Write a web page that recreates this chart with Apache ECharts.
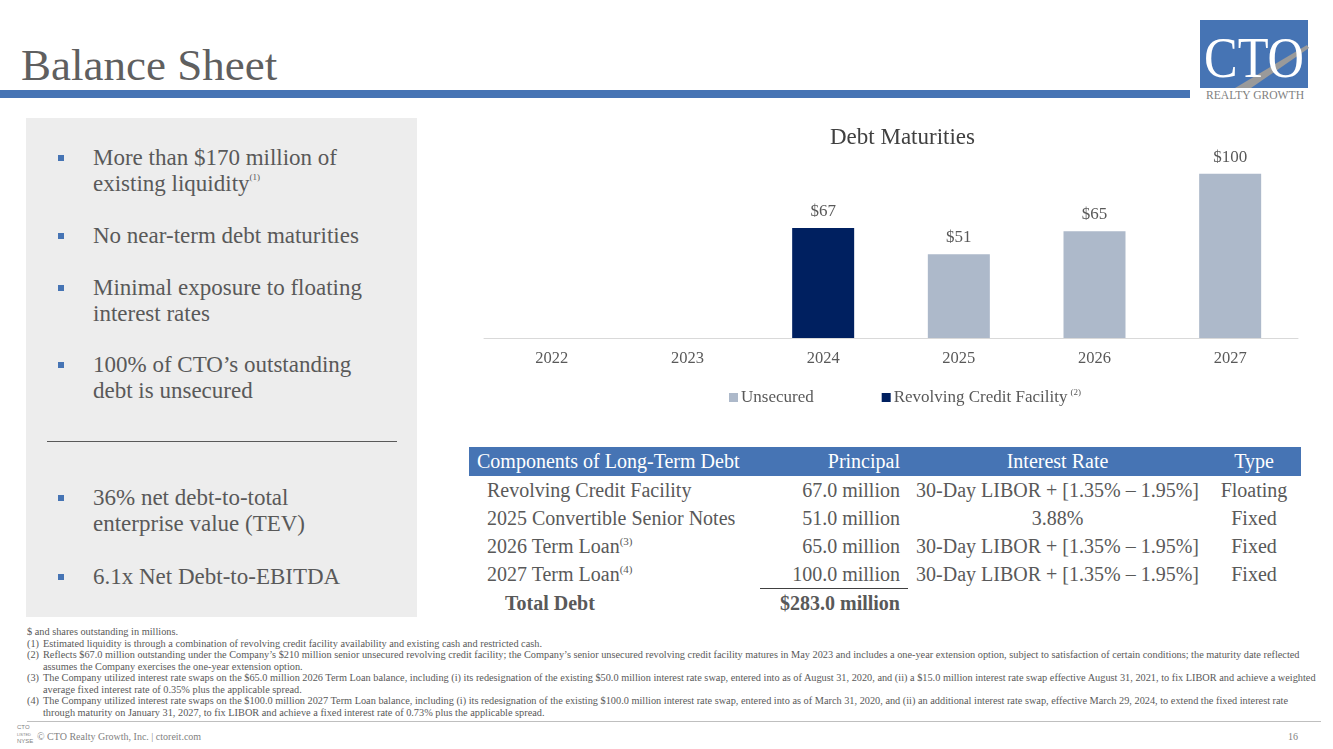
<!DOCTYPE html>
<html>
<head>
<meta charset="utf-8">
<script src="https://cdn.jsdelivr.net/npm/echarts@6/dist/echarts.min.js"></script>
<style>
  html,body{margin:0;padding:0;background:#fff;}
  body{width:1333px;height:749px;position:relative;overflow:hidden;font-family:"Liberation Serif",serif;color:#595959;}
  .abs{position:absolute;white-space:nowrap;}
  #title{left:21px;top:40px;font-size:45px;line-height:50px;color:#5F5F5F;}
  #rule{left:0;top:90px;width:1190px;height:8px;background:#4674B4;}
  #panel{left:26px;top:118px;width:391px;height:499px;background:#EDEDED;}
  .bul{position:absolute;left:58px;width:6px;height:6px;background:#4674B4;}
  .bt{position:absolute;left:93px;font-size:23px;line-height:26px;color:#595959;white-space:nowrap;}
  .bt sup{font-size:9px;line-height:0;vertical-align:baseline;position:relative;top:-11px;}
  #sep{left:47px;top:441px;width:350px;height:1px;background:#595959;}
  #chart{left:460px;top:110px;width:860px;height:305px;}
  table{position:absolute;left:469px;top:447px;border-collapse:collapse;table-layout:fixed;width:832px;font-size:20px;color:#595959;}
  th{background:#4674B4;color:#fff;font-weight:normal;height:29px;padding:0 8px;line-height:29px;white-space:nowrap;overflow:visible;}
  td{height:28px;line-height:28px;padding:0 8px;white-space:nowrap;overflow:visible;}
  td sup{font-size:11px;line-height:0;vertical-align:baseline;position:relative;top:-8px;}
  .r{text-align:right;} .c{text-align:center;} .l{text-align:left;}
  #notes{left:27px;top:626px;font-size:10.3px;line-height:11.5px;color:#595959;}
  #notes div{white-space:nowrap;}
  .n{display:inline-block;width:16px;}
  #foot{left:27px;top:721px;width:1294px;height:1px;background:#BFBFBF;}
  #copy{left:37px;top:731px;font-size:10px;color:#7F7F7F;}
  #pg{left:1288px;top:731px;font-size:10px;color:#7F7F7F;}
  #mini{left:17px;top:724px;font-family:"Liberation Sans",sans-serif;color:#7F7F7F;line-height:7px;font-size:6px;}
</style>
</head>
<body>
<div class="abs" id="title">Balance Sheet</div>
<div class="abs" id="rule"></div>
<svg class="abs" style="left:1195px;top:15px" width="120" height="90" viewBox="0 0 120 90">
  <rect x="5" y="5" width="108" height="68" fill="#4674B4"/>
  <polygon points="40,73 112,30 114,33 56,73" fill="#9A9A9A"/>
  <text x="59" y="62" text-anchor="middle" font-family="Liberation Serif" font-size="56" fill="#fff" textLength="100" lengthAdjust="spacingAndGlyphs">CTO</text>
  <text x="60" y="84" text-anchor="middle" font-family="Liberation Serif" font-size="12" fill="#7F7F7F" textLength="98" lengthAdjust="spacingAndGlyphs">REALTY GROWTH</text>
</svg>

<div class="abs" id="panel"></div>
<div class="bul" style="top:155px"></div>
<div class="bt" style="top:145px">More than $170 million of<br>existing liquidity<sup>(1)</sup></div>
<div class="bul" style="top:233px"></div>
<div class="bt" style="top:223px">No near-term debt maturities</div>
<div class="bul" style="top:285px"></div>
<div class="bt" style="top:275px">Minimal exposure to floating<br>interest rates</div>
<div class="bul" style="top:362px"></div>
<div class="bt" style="top:352px">100% of CTO’s outstanding<br>debt is unsecured</div>
<div class="abs" id="sep"></div>
<div class="bul" style="top:495px"></div>
<div class="bt" style="top:485px">36% net debt-to-total<br>enterprise value (TEV)</div>
<div class="bul" style="top:574px"></div>
<div class="bt" style="top:564px">6.1x Net Debt-to-EBITDA</div>

<div class="abs" id="chart"></div>

<table id="tbl">
  <colgroup><col style="width:291px"><col style="width:148px"><col style="width:299px"><col style="width:94px"></colgroup>
  <tr><th class="l">Components of Long-Term Debt</th><th class="r">Principal</th><th class="c">Interest Rate</th><th class="c">Type</th></tr>
</table>

<div class="abs" id="notes"></div>

<div class="abs" id="foot"></div>
<div class="abs" id="mini">CTO<br><span style="font-size:4px">LISTED</span><br>NYSE</div>
<div class="abs" id="copy">© CTO Realty Growth, Inc. | ctoreit.com</div>
<div class="abs" id="pg">16</div>

<script>
// ---- chart data ----
const categories = ['2022', '2023', '2024', '2025', '2026', '2027'];
const unsecured = [null, null, null, 51, 65, 100];
const revolving = [null, null, 67, null, null, null];
const seriesNames = ['Unsecured', 'Revolving Credit Facility'];

// ---- table data ----
const debtNames = ['Revolving Credit Facility', '2025 Convertible Senior Notes', '2026 Term Loan', '2027 Term Loan'];
const debtNotes = ['', '', '(3)', '(4)'];
const debtPrincipal = ['67.0 million', '51.0 million', '65.0 million', '100.0 million'];
const debtRate = ['30-Day LIBOR + [1.35% – 1.95%]', '3.88%', '30-Day LIBOR + [1.35% – 1.95%]', '30-Day LIBOR + [1.35% – 1.95%]'];
const debtType = ['Floating', 'Fixed', 'Fixed', 'Fixed'];
const totalLabel = 'Total Debt';
const totalValue = '$283.0 million';

// ---- footnotes ----
const footnoteHead = '$ and shares outstanding in millions.';
const footnotes = [
  ['(1)', ['Estimated liquidity is through a combination of revolving credit facility availability and existing cash and restricted cash.']],
  ['(2)', ['Reflects $67.0 million outstanding under the Company’s $210 million senior unsecured revolving credit facility; the Company’s senior unsecured revolving credit facility matures in May 2023 and includes a one-year extension option, subject to satisfaction of certain conditions; the maturity date reflected', 'assumes the Company exercises the one-year extension option.']],
  ['(3)', ['The Company utilized interest rate swaps on the $65.0 million 2026 Term Loan balance, including (i) its redesignation of the existing $50.0 million interest rate swap, entered into as of August 31, 2020, and (ii) a $15.0 million interest rate swap effective August 31, 2021, to fix LIBOR and achieve a weighted', 'average fixed interest rate of 0.35% plus the applicable spread.']],
  ['(4)', ['The Company utilized interest rate swaps on the $100.0 million 2027 Term Loan balance, including (i) its redesignation of the existing $100.0 million interest rate swap, entered into as of March 31, 2020, and (ii) an additional interest rate swap, effective March 29, 2024, to extend the fixed interest rate', 'through maturity on January 31, 2027, to fix LIBOR and achieve a fixed interest rate of 0.73% plus the applicable spread.']]
];

// build table
const tbl = document.getElementById('tbl');
debtNames.forEach((n, i) => {
  const tr = document.createElement('tr');
  const last = i === debtNames.length - 1;
  tr.innerHTML = '<td style="padding-left:18px">' + n + (debtNotes[i] ? '<sup>' + debtNotes[i] + '</sup>' : '') + '</td>' +
    '<td class="r"' + (last ? ' style="border-bottom:1.5px solid #404040"' : '') + '>' + debtPrincipal[i] + '</td>' +
    '<td class="c">' + debtRate[i] + '</td><td class="c">' + debtType[i] + '</td>';
  tbl.appendChild(tr);
});
const trT = document.createElement('tr');
trT.innerHTML = '<td style="padding-left:36px;font-weight:bold">' + totalLabel + '</td><td class="r" style="font-weight:bold">' + totalValue + '</td><td></td><td></td>';
tbl.appendChild(trT);

// build footnotes
const notes = document.getElementById('notes');
let html = '<div>' + footnoteHead + '</div>';
footnotes.forEach(f => {
  f[1].forEach((line, j) => {
    html += '<div>' + (j === 0 ? '<span class="n">' + f[0] + '</span>' : '<span class="n"></span>') + line + '</div>';
  });
});
notes.innerHTML = html;

// chart
const FONT = 'Liberation Serif';
const chart = echarts.init(document.getElementById('chart'));
const lbl = {
  show: true, position: 'top', distance: 8,
  fontFamily: FONT, fontSize: 17, color: '#595959',
  formatter: p => (p.value == null ? '' : '$' + p.value)
};
chart.setOption({
  animation: false,
  title: {
    text: 'Debt Maturities', left: 365, top: 11,
    textStyle: { fontFamily: FONT, fontSize: 23, fontWeight: 'normal', color: '#404040' }
  },
  legend: {
    data: seriesNames, top: 273, left: 264, itemGap: 68, itemWidth: 9, itemHeight: 9, icon: 'rect',
    formatter: name => name === seriesNames[1] ? name + '{sup|(2)}' : name,
    textStyle: {
      fontFamily: FONT, fontSize: 17, color: '#595959', padding: [0, 0, 0, -2],
      rich: { sup: { fontFamily: FONT, fontSize: 9, color: '#595959', verticalAlign: 'top', padding: [0, 0, 10, 3] } }
    }
  },
  grid: { left: 24, right: 22, top: 31, bottom: 77, containLabel: false },
  xAxis: {
    type: 'category', data: categories,
    axisLine: { lineStyle: { color: '#D9D9D9', width: 1 } },
    axisTick: { show: false },
    axisLabel: { fontFamily: FONT, fontSize: 16.5, color: '#595959', margin: 12 }
  },
  yAxis: { type: 'value', min: 0, max: 120, show: false, splitLine: { show: false } },
  series: [
    { name: seriesNames[0], type: 'bar', stack: 'd', data: unsecured, barWidth: 62, itemStyle: { color: '#ADB9CA' }, label: lbl },
    { name: seriesNames[1], type: 'bar', stack: 'd', data: revolving, barWidth: 62, itemStyle: { color: '#002060' }, label: lbl }
  ]
});
</script>
</body>
</html>
